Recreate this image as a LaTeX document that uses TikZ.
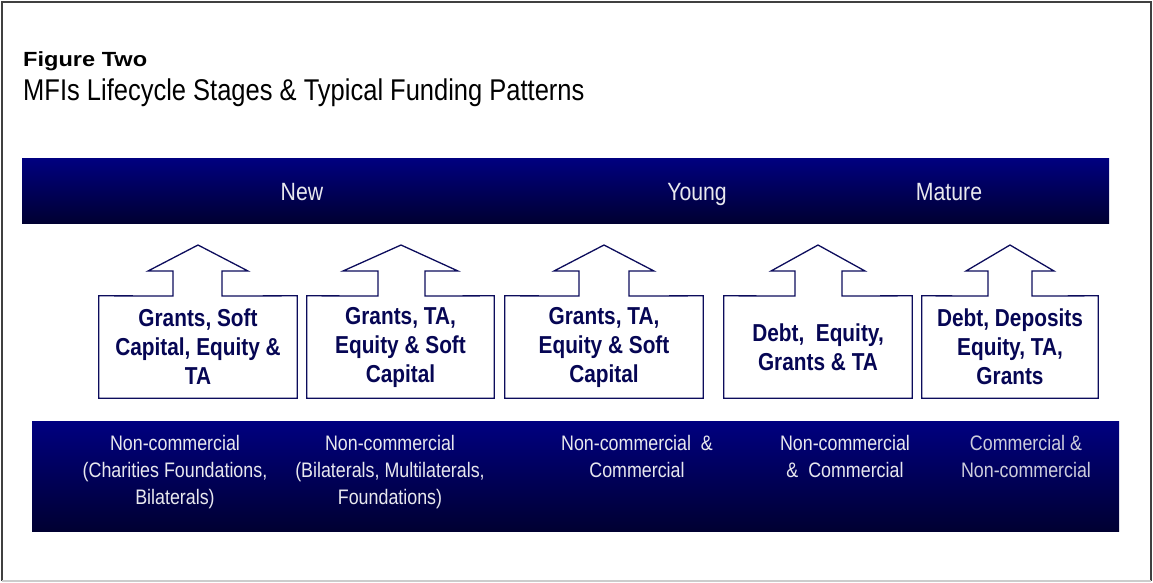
\documentclass[tikz,border=0pt]{standalone}
\usepackage{fontspec}
\setmainfont{Liberation Sans}
\newfontfamily\narrowfont{Liberation Sans}[FakeStretch=0.85]
\newfontfamily\wideboldfont{Liberation Sans}[FakeStretch=1.15]
\usetikzlibrary{positioning}

\definecolor{bandtop}{RGB}{0,0,128}
\definecolor{bandbottom}{RGB}{0,0,50}
\definecolor{navyline}{RGB}{12,12,92}
\definecolor{navytext}{RGB}{6,6,84}
\definecolor{labelgrey}{RGB}{232,232,238}
\definecolor{softgrey}{RGB}{205,205,220}

\begin{document}
\begin{tikzpicture}[x=1pt, y=-1pt,
        band/.style={rectangle, top color=bandtop, bottom color=bandbottom, draw=none, inner sep=0pt},
        stage/.style={anchor=base, text=labelgrey, font=\narrowfont\fontsize{25}{30}\selectfont},
        fund/.style={anchor=north, align=center, inner sep=0pt, text=labelgrey, font=\narrowfont\fontsize{21}{27}\selectfont},
        box/.style={rectangle, minimum height=102pt, align=center, inner sep=0pt, text=navytext, font=\narrowfont\bfseries\fontsize{24.5}{29}\selectfont},
        outline/.style={draw=navyline, line width=1.3pt, line join=miter}]

    \useasboundingbox (0,0) rectangle (1153,582);
    \draw[black!75, line width=1.5pt] (2,581) -- (2,2) -- (1151,2) -- (1151,581);
    \draw[black!20, line width=1.5pt] (2,581) -- (1151,581);

    \node (fig) [anchor=base west, inner sep=0pt, font=\wideboldfont\bfseries\fontsize{20.5}{24}\selectfont] at (23,66) {Figure Two};
    \node (subtitle) [anchor=base west, inner sep=0pt, font=\narrowfont\fontsize{30}{36}\selectfont] at (23,100) {MFIs Lifecycle Stages \& Typical Funding Patterns};

    % stages band
    \node (lifecycle) [band, minimum width=1087pt, minimum height=65pt] at (565.5,190.5) {};
    \node (new) [stage] at (302,200) {New};
    \node (young) [stage] at (697,200) {Young};
    \node (mature) [stage] at (949,200) {Mature};

    % funding boxes
    \node (grantsSoft) [box, minimum width=198pt] at (198,347) {Grants, Soft\\Capital, Equity \&\\TA};
    \node (grantsTA) [box, minimum width=187pt] at (400.5,347) {Grants, TA,\\Equity \& Soft\\Capital};
    \node (grantsEquity) [box, minimum width=198pt] at (604,347) {Grants, TA,\\Equity \& Soft\\Capital};
    \node (debtEquity) [box, minimum width=188pt] at (818,347) {Debt,~ Equity,\\Grants \& TA};
    \node (debtDeposits) [box, minimum width=176pt] at (1010,347) {Debt, Deposits\\Equity, TA,\\Grants};

    \draw [outline] (grantsSoft.south west) -- (grantsSoft.north west) -- (173,296) -- (173,271) -- (148,271) -- (198,245) -- (248,271) -- (222,271) -- (222,296) -- (grantsSoft.north east) -- (grantsSoft.south east) -- cycle;
    \draw [outline] (grantsTA.south west) -- (grantsTA.north west) -- (378,296) -- (378,271) -- (343,271) -- (401,245) -- (458,271) -- (425,271) -- (425,296) -- (grantsTA.north east) -- (grantsTA.south east) -- cycle;
    \draw [outline] (grantsEquity.south west) -- (grantsEquity.north west) -- (579,296) -- (579,271) -- (554,271) -- (604,245) -- (654,271) -- (629,271) -- (629,296) -- (grantsEquity.north east) -- (grantsEquity.south east) -- cycle;
    \draw [outline] (debtEquity.south west) -- (debtEquity.north west) -- (795,296) -- (795,271) -- (771,271) -- (818,245) -- (865,271) -- (842,271) -- (842,296) -- (debtEquity.north east) -- (debtEquity.south east) -- cycle;
    \draw [outline] (debtDeposits.south west) -- (debtDeposits.north west) -- (988,296) -- (988,271) -- (966,271) -- (1010,245) -- (1054,271) -- (1032,271) -- (1032,296) -- (debtDeposits.north east) -- (debtDeposits.south east) -- cycle;

    % sources band
    \node (sources) [band, minimum width=1087pt, minimum height=110pt] at (575.5,476) {};
    \node (nonComm) [fund] at (175,435) {Non-commercial\\(Charities Foundations,\\Bilaterals)};
    \node (nonCommMulti) [fund] at (390,435) {Non-commercial\\(Bilaterals, Multilaterals,\\Foundations)};
    \node (mixedA) [fund] at (637,435) {Non-commercial~ \&\\Commercial};
    \node (mixedB) [fund] at (845,435) {Non-commercial\\\&~ Commercial};
    \node (commercial) [fund, text=softgrey] at (1026,435) {Commercial \&\\Non-commercial};
\end{tikzpicture}
\end{document}
